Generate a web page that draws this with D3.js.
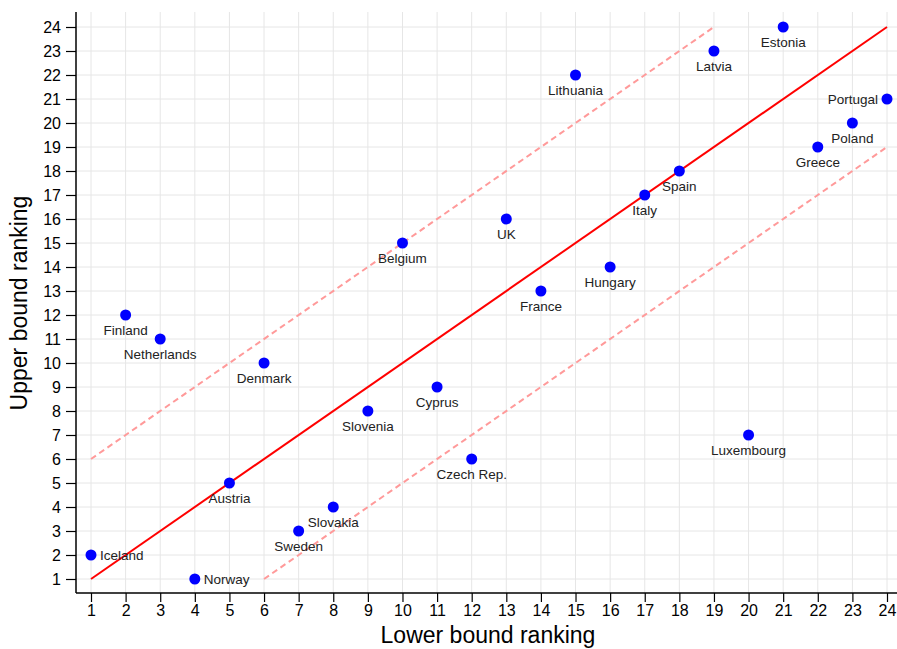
<!DOCTYPE html>
<html>
<head>
<meta charset="utf-8">
<script src="https://cdn.jsdelivr.net/npm/d3@7"></script>
<style>
  html, body { margin: 0; padding: 0; background: #fff; }
  svg { display: block; font-family: "Liberation Sans", Arial, Helvetica, sans-serif; }
</style>
</head>
<body>
<svg id="chart" width="897" height="649"></svg>
<script>
// Country rankings: lower bound (x) vs upper bound (y)
const countries = ["Iceland","Finland","Netherlands","Norway","Austria","Denmark","Sweden","Slovakia",
  "Slovenia","Belgium","Cyprus","Czech Rep.","UK","France","Lithuania","Hungary","Italy","Spain",
  "Latvia","Luxembourg","Estonia","Greece","Poland","Portugal"];
const lowerRank = [1,2,3,4,5,6,7,8,9,10,11,12,13,14,15,16,17,18,19,20,21,22,23,24];
const upperRank = [2,12,11,1,5,10,3,4,8,15,9,6,16,13,22,14,17,18,23,7,24,19,20,21];
// label placement: below the dot unless noted
const labelSide = ["right","below","below","right","below","below","below","below",
  "below","below","below","below","below","below","below","below","below","below",
  "below","below","below","below","below","left"];
const tickValues = d3.range(1, 25);

// reference lines: diagonal and the ±5 band
const diagonal = [[1,1],[24,24]];
const bandUpper = [[1,6],[19,24]];
const bandLower = [[6,1],[24,19]];

const svg = d3.select("#chart");
const plot = { left: 76, right: 897, top: 12, bottom: 593 };

const x = d3.scaleLinear().domain([1, 24]).range([91, 887]);
const y = d3.scaleLinear().domain([1, 24]).range([579, 27]);

// grid
const grid = svg.append("g").attr("stroke", "#e6e6e6").attr("stroke-width", 1);
grid.selectAll("line.v").data(tickValues).join("line")
  .attr("class", "v")
  .attr("x1", d => x(d)).attr("x2", d => x(d))
  .attr("y1", plot.top).attr("y2", plot.bottom);
grid.selectAll("line.h").data(tickValues).join("line")
  .attr("class", "h")
  .attr("x1", plot.left).attr("x2", plot.right)
  .attr("y1", d => y(d)).attr("y2", d => y(d));

// axes
const xAxis = svg.append("g")
  .attr("transform", `translate(0,${plot.bottom})`)
  .call(d3.axisBottom(x).tickValues(tickValues).tickFormat(d3.format("d")).tickSize(9).tickSizeOuter(0));
xAxis.select(".domain").attr("d", `M${plot.left},0H${plot.right}`).attr("stroke", "#000").attr("stroke-width", 1.5);
xAxis.selectAll(".tick line").attr("stroke", "#000").attr("stroke-width", 1.2);
xAxis.selectAll(".tick text").attr("font-size", 16).attr("fill", "#000").attr("dy", "0.71em").attr("y", 12);

const yAxis = svg.append("g")
  .attr("transform", `translate(${plot.left},0)`)
  .call(d3.axisLeft(y).tickValues(tickValues).tickFormat(d3.format("d")).tickSize(10).tickSizeOuter(0));
yAxis.select(".domain").attr("d", `M0,${plot.top}V${plot.bottom}`).attr("stroke", "#000").attr("stroke-width", 1.5);
yAxis.selectAll(".tick line").attr("stroke", "#000").attr("stroke-width", 1.2);
yAxis.selectAll(".tick text").attr("font-size", 16).attr("fill", "#000").attr("x", -15);

// reference lines
const line = d3.line().x(d => x(d[0])).y(d => y(d[1]));
svg.append("path").datum(bandUpper).attr("d", line)
  .attr("fill", "none").attr("stroke", "#ff9a9a").attr("stroke-width", 2).attr("stroke-dasharray", "6,4");
svg.append("path").datum(bandLower).attr("d", line)
  .attr("fill", "none").attr("stroke", "#ff9a9a").attr("stroke-width", 2).attr("stroke-dasharray", "6,4");
svg.append("path").datum(diagonal).attr("d", line)
  .attr("fill", "none").attr("stroke", "#ff0000").attr("stroke-width", 2);

// points
const data = countries.map((c, i) => ({ name: c, lo: lowerRank[i], up: upperRank[i], side: labelSide[i] }));
svg.append("g").selectAll("circle").data(data).join("circle")
  .attr("cx", d => x(d.lo)).attr("cy", d => y(d.up)).attr("r", 5.5).attr("fill", "#0000ff");

// labels
svg.append("g").selectAll("text").data(data).join("text")
  .attr("font-size", 13.5).attr("fill", "#222")
  .attr("x", d => d.side === "right" ? x(d.lo) + 9 : d.side === "left" ? x(d.lo) - 9 : x(d.lo))
  .attr("y", d => d.side === "below" ? y(d.up) + 19.5 : y(d.up) + 5)
  .attr("text-anchor", d => d.side === "right" ? "start" : d.side === "left" ? "end" : "middle")
  .text(d => d.name);

// axis titles
svg.append("text").attr("x", 488).attr("y", 643).attr("text-anchor", "middle")
  .attr("font-size", 23).attr("fill", "#000").text("Lower bound ranking");
svg.append("text").attr("transform", `translate(27,303) rotate(-90)`).attr("text-anchor", "middle")
  .attr("font-size", 23).attr("fill", "#000").text("Upper bound ranking");
</script>
</body>
</html>
